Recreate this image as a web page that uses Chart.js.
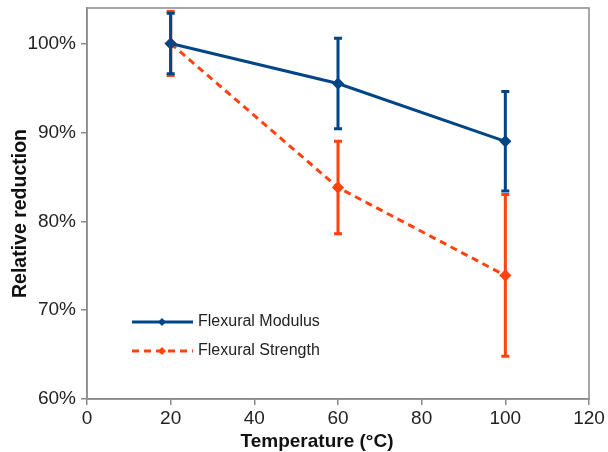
<!DOCTYPE html>
<html>
<head>
<meta charset="utf-8">
<script src="https://cdn.jsdelivr.net/npm/chart.js@4"></script>
<style>
  html, body { margin: 0; padding: 0; background: #fff; }
  #wrap { width: 608px; height: 452px; }
</style>
</head>
<body>
<div id="wrap"><canvas id="chart" width="608" height="452"></canvas></div>
<script>
// Temperature steps and relative reduction (%)
const temps = [20, 60, 100];
const modulus = [100, 95.5, 89.0];
const modulusErr = [3.4, 5.1, 5.6];
const strength = [100, 83.8, 73.9];
const strengthErr = [3.6, 5.2, 9.1];
const yTicks = [60, 70, 80, 90, 100];
const seriesNames = ['Flexural Modulus', 'Flexural Strength'];

const BLUE = '#004586';
const ORANGE = '#ff420e';
const AXIS = '#8a8a8a';
const FONT = '"Liberation Sans", Arial, sans-serif';

// error bars drawn from the scales
const errorBars = {
  id: 'errorBars',
  afterDatasetsDraw(chart) {
    const { ctx, scales: { x, y } } = chart;
    const sets = chart.data.datasets;
    for (let d = sets.length - 1; d >= 0; d--) {
      const ds = sets[d];
      ctx.save();
      ctx.strokeStyle = ds.borderColor;
      ctx.lineWidth = 3;
      ds.data.forEach((p, i) => {
        const px = x.getPixelForValue(p.x);
        const top = y.getPixelForValue(p.y + ds.errors[i]);
        const bot = y.getPixelForValue(p.y - ds.errors[i]);
        ctx.beginPath();
        ctx.moveTo(px, top); ctx.lineTo(px, bot);
        ctx.moveTo(px - 4, top); ctx.lineTo(px + 4, top);
        ctx.moveTo(px - 4, bot); ctx.lineTo(px + 4, bot);
        ctx.stroke();
      });
      ctx.restore();
    }
  }
};

// frame round the plot area, legend inside it, axis titles
const frameAndLegend = {
  id: 'frameAndLegend',
  afterDraw(chart) {
    const { ctx, chartArea: a } = chart;
    ctx.save();
    ctx.strokeStyle = AXIS;
    ctx.lineWidth = 1.5;
    ctx.strokeRect(a.left, a.top, a.right - a.left, a.bottom - a.top);

    chart.data.datasets.forEach((ds, i) => {
      const y0 = a.top + 314 + i * 29;
      const x0 = a.left + 45;
      ctx.strokeStyle = ds.borderColor;
      ctx.lineWidth = 3;
      ctx.setLineDash(ds.borderDash || []);
      ctx.beginPath();
      ctx.moveTo(x0, y0); ctx.lineTo(x0 + 61, y0);
      ctx.stroke();
      ctx.setLineDash([]);
      ctx.fillStyle = ds.borderColor;
      ctx.beginPath();
      const cx = x0 + 30;
      ctx.moveTo(cx, y0 - 4); ctx.lineTo(cx + 4, y0); ctx.lineTo(cx, y0 + 4); ctx.lineTo(cx - 4, y0);
      ctx.closePath(); ctx.fill();
      ctx.fillStyle = '#222';
      ctx.font = '16px ' + FONT;
      ctx.textBaseline = 'middle';
      ctx.textAlign = 'left';
      ctx.fillText(ds.label, x0 + 66, y0);
    });

    // x title: the original has it left of the plot centre
    ctx.fillStyle = '#111';
    ctx.font = 'bold 19px ' + FONT;
    ctx.textAlign = 'center';
    ctx.textBaseline = 'alphabetic';
    ctx.fillText('Temperature (°C)', 317, 447);

    // y title, a little below the plot centre
    ctx.translate(21, (a.top + a.bottom) / 2 + 10);
    ctx.rotate(-Math.PI / 2);
    ctx.font = 'bold 19.5px ' + FONT;
    ctx.textBaseline = 'middle';
    ctx.fillText('Relative reduction', 0, 0);
    ctx.restore();
  }
};

new Chart(document.getElementById('chart'), {
  type: 'line',
  data: {
    datasets: [
      {
        label: seriesNames[0],
        data: temps.map((t, i) => ({ x: t, y: modulus[i] })),
        errors: modulusErr,
        borderColor: BLUE,
        backgroundColor: BLUE,
        borderWidth: 3,
        pointStyle: 'rectRot',
        pointRadius: 4,
        tension: 0
      },
      {
        label: seriesNames[1],
        data: temps.map((t, i) => ({ x: t, y: strength[i] })),
        errors: strengthErr,
        borderColor: ORANGE,
        backgroundColor: ORANGE,
        borderWidth: 3,
        borderDash: [7, 5],
        pointStyle: 'rectRot',
        pointRadius: 4,
        tension: 0
      }
    ]
  },
  options: {
    responsive: false,
    animation: false,
    layout: { padding: { top: 8, right: 19, left: 0, bottom: 0 } },
    plugins: { legend: { display: false }, tooltip: { enabled: false } },
    scales: {
      x: {
        type: 'linear',
        min: 0, max: 120,
        ticks: { stepSize: 20, color: '#222', font: { family: FONT, size: 19 }, padding: 2 },
        grid: { drawOnChartArea: false, color: AXIS, tickLength: 6, lineWidth: 1.5 },
        border: { color: AXIS, width: 1.5 },
        afterFit(axis) { axis.height = 53; }
      },
      y: {
        min: 60, max: 104,
        afterBuildTicks(axis) { axis.ticks = yTicks.map(v => ({ value: v })); },
        ticks: { color: '#222', font: { family: FONT, size: 19 }, padding: 5, callback: v => v + '%' },
        grid: { drawOnChartArea: false, color: AXIS, tickLength: 6, lineWidth: 1.5 },
        border: { color: AXIS, width: 1.5 },
        afterFit(axis) { axis.width = 87; axis.paddingTop = 0; axis.paddingBottom = 0; }
      }
    }
  },
  plugins: [errorBars, frameAndLegend]
});
</script>
</body>
</html>
